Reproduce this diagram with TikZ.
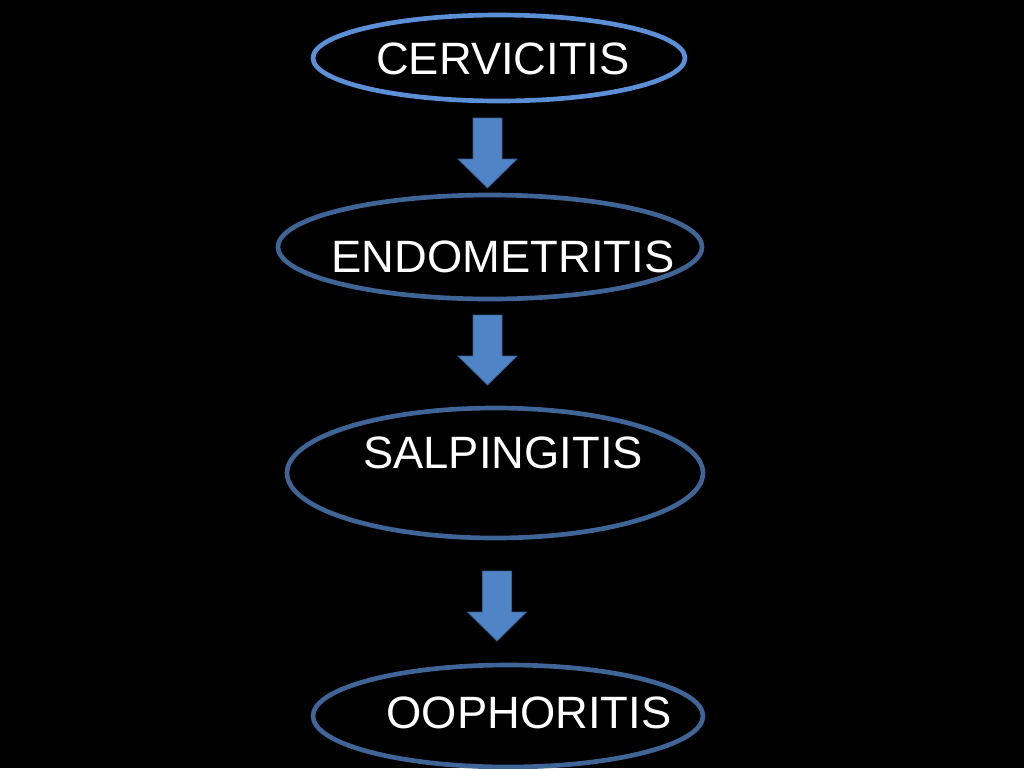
\documentclass[tikz,border=0pt]{standalone}
\usepackage{fontspec}
\setmainfont{Liberation Sans}
\usetikzlibrary{shapes.geometric}
\definecolor{ringA}{HTML}{5B8FD6}
\definecolor{ringB}{HTML}{3F6596}
\definecolor{arrowfill}{HTML}{4F84C6}
\definecolor{arrowedge}{HTML}{3A5F91}
\tikzset{
  ring/.style={ellipse, draw=ringB, line width=3.5pt, inner sep=0pt},
  lbl/.style={text=white, font=\fontsize{34}{38}\selectfont, inner sep=0pt, anchor=base},
  pics/blockarrow/.style={code={
    \fill[arrowfill, draw=arrowedge, line width=0.6pt]
      (-14.5,0) -- (14.5,0) -- (14.5,41) -- (29.5,41) -- (0,70)
      -- (-29.5,41) -- (-14.5,41) -- cycle;}}
}
\begin{document}
\begin{tikzpicture}[x=0.75pt,y=-0.75pt]
\useasboundingbox (0,0) rectangle (1024,768);
\fill[black] (0,0) rectangle (1024,768);
% ellipses
\node[ring, draw=ringA, minimum width=372*0.75pt, minimum height=86*0.75pt] (e1) at (499,58) {};
\node[ring, minimum width=424*0.75pt, minimum height=104*0.75pt] (e2) at (490,247) {};
\node[ring, minimum width=416*0.75pt, minimum height=130*0.75pt] (e3) at (495,473) {};
\node[ring, minimum width=390*0.75pt, minimum height=102*0.75pt] (e4) at (508,716) {};
% labels
\node[lbl] (t1) at (503,74) {CERVICITIS};
\node[lbl] (t2) at (503,272) {ENDOMETRITIS};
\node[lbl] (t3) at (503,468) {SALPINGITIS};
\node[lbl] (t4) at (529,728) {OOPHORITIS};
% block arrows
\pic at (487.5,118) {blockarrow};
\pic at (487.5,315) {blockarrow};
\pic at (497,571) {blockarrow};
\end{tikzpicture}
\end{document}
